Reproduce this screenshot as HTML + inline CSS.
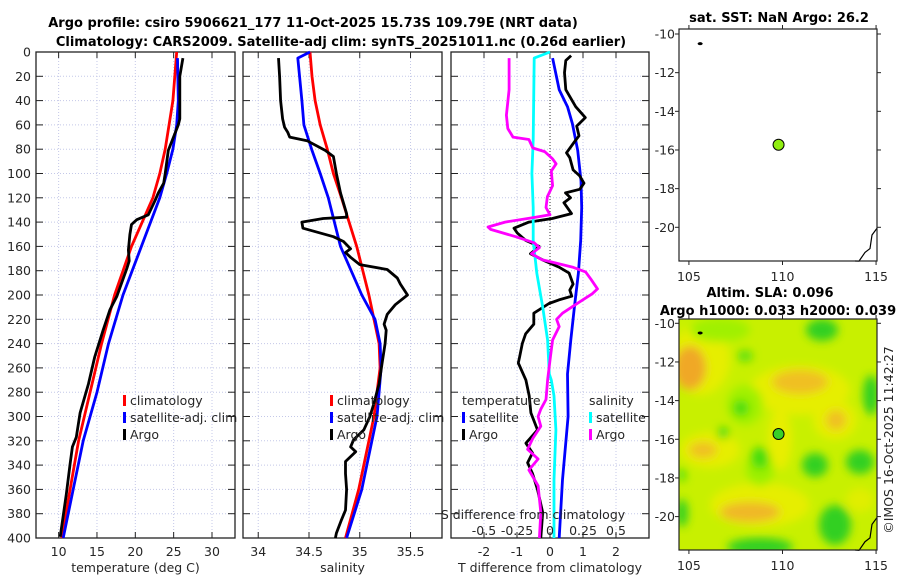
<!DOCTYPE html>
<html><head><meta charset="utf-8"><style>
body{margin:0;background:#fff;}
svg{display:block;font-family:"DejaVu Sans","Liberation Sans",sans-serif;}
.t{font-size:12.5px;fill:#262626;}
.b{font-weight:bold;font-size:13px;fill:#000;}
</style></head><body>
<svg id="fig" width="900" height="580" viewBox="0 0 900 580">
<g>
<text class="b" x="313" y="27" text-anchor="middle">Argo profile: csiro 5906621_177 11-Oct-2025 15.73S 109.79E (NRT data)</text>
<text class="b" x="341" y="46" text-anchor="middle">Climatology: CARS2009. Satellite-adj clim: synTS_20251011.nc (0.26d earlier)</text>
<text class="b" x="779" y="22" text-anchor="middle">sat. SST: NaN Argo: 26.2</text>
<text class="b" x="770" y="297" text-anchor="middle">Altim. SLA: 0.096</text>
<text class="b" x="778" y="315" text-anchor="middle">Argo h1000: 0.033 h2000: 0.039</text>
<text class="t" transform="translate(893,440) rotate(-90)" text-anchor="middle">©IMOS 16-Oct-2025 11:42:27</text>
</g>
<g id="plots"></g>
</svg>
<script>
// ---------- data ----------
const pTicks = [0,20,40,60,80,100,120,140,160,180,200,220,240,260,280,300,320,340,360,380,400];
const tempTicks = [10,15,20,25,30];
const salTicks = [34,34.5,35,35.5];
const salTickLabels = ['34','34.5','35','35.5'];
const tdTicks = [-2,-1,0,1,2];
const sdTicks = [-0.5,-0.25,0,0.25,0.5];
const sdTickLabels = ['-0.5','-0.25','0','0.25','0.5'];

const climTP = [0,40,80,100,120,160,200,240,280,320,360,400];
const climT  = [25.4,24.9,23.9,23.2,22.3,19.5,17.3,15.6,14.1,12.6,11.5,10.4];
const satTP  = [5,40,60,80,100,120,160,200,240,280,320,360,400];
const satT   = [25.5,25.6,25.4,24.9,24.1,23.2,20.8,18.4,16.5,15.0,13.2,11.9,10.6];
const argoTP = [5,20,55,60,81,100,108,116,122,134,138,142,150,163,172,178,201,212,229,251,273,297,317,325,339,364,399];
const argoT  = [26.2,25.8,25.8,25.6,24.3,23.9,23.7,23.0,22.6,21.7,20.2,19.5,19.3,19.1,19.2,18.9,17.6,16.7,15.8,14.7,13.9,12.8,12.3,11.8,11.5,11.0,10.2];

const climSP = [0,20,40,60,80,100,120,160,200,240,260,280,300,320,360,400];
const climS  = [34.51,34.53,34.56,34.61,34.68,34.74,34.82,34.97,35.09,35.19,35.20,35.17,35.14,35.09,34.99,34.86];
const satSP  = [0,5,40,60,81,100,120,160,200,220,240,260,280,300,320,360,400];
const satS   = [34.51,34.39,34.43,34.45,34.53,34.61,34.69,34.81,35.02,35.15,35.20,35.21,35.19,35.17,35.12,35.02,34.87];
const argoSP = [5,20,40,55,62,66,70,73,81,86,100,116,133,136,137,140,145,152,156,162,165,169,175,179,186,191,200,208,216,224,229,240,256,273,289,300,311,319,325,329,333,337,347,360,377,385,396,400];
const argoS  = [34.20,34.21,34.22,34.24,34.26,34.29,34.31,34.48,34.66,34.74,34.77,34.81,34.87,34.87,34.64,34.43,34.44,34.74,34.84,34.91,34.86,34.91,35.00,35.27,35.37,35.40,35.47,35.35,35.27,35.24,35.26,35.25,35.22,35.19,35.14,35.10,35.04,34.94,34.91,34.96,34.91,34.86,34.86,34.87,34.86,34.82,34.77,34.76];

const satTdP = [5,31,45,59,81,106,128,155,182,210,237,265,300,352,400];
const satTd  = [0.08,0.28,0.53,0.68,0.84,0.94,0.96,0.93,0.86,0.74,0.63,0.53,0.55,0.38,0.28];
const argoTdP = [3,7,17,31,45,54,61,69,74,83,87,97,102,108,113,116,120,124,133,137,140,145,149,155,160,166,171,177,182,191,196,201,204,207,215,224,232,240,251,256,270,283,297,311,322,330,338,347,360,379,400];
const argoTd  = [0.64,0.48,0.44,0.48,0.78,1.07,0.81,0.88,0.74,0.5,0.6,0.7,0.9,1.03,0.9,0.47,0.62,0.42,0.65,0.07,-0.64,-1.09,-0.99,-0.74,-0.33,-0.59,-0.23,0.27,0.58,0.7,0.6,0.66,0.27,-0.03,-0.49,-0.49,-0.74,-0.84,-0.92,-0.96,-0.73,-0.63,-0.58,-0.38,-0.73,-0.53,-0.68,-0.53,-0.38,-0.22,-0.28];
const satSdP = [0,5,72,100,128,155,182,210,237,265,270,283,311,352,400];
const satSd  = [0.0,-0.12,-0.127,-0.137,-0.127,-0.127,-0.10,-0.055,-0.018,-0.005,0.01,0.03,0.045,0.03,0.03];
const argoSdP = [5,31,52,63,70,72,79,82,88,92,98,110,119,128,134,136,140,144,146,152,157,161,166,171,173,177,181,187,195,199,206,215,220,226,237,251,270,286,294,300,308,318,327,335,344,357,379,400];
const argoSd  = [-0.31,-0.31,-0.33,-0.32,-0.28,-0.16,-0.13,-0.04,0.02,0.046,0.01,0.02,-0.02,-0.03,0.0,-0.11,-0.34,-0.47,-0.45,-0.26,-0.12,-0.08,-0.14,-0.06,0.02,0.17,0.27,0.31,0.36,0.32,0.22,0.095,0.05,0.07,0.02,0.003,-0.018,-0.03,-0.07,-0.09,-0.07,-0.13,-0.17,-0.09,-0.16,-0.09,-0.07,-0.08];

const latTicks = [-10,-12,-14,-16,-18,-20];
const lonTicks = [105,110,115];
const argoLon = [109.79];
const argoLat = [-15.73];

// ---------- helpers ----------
const NS='http://www.w3.org/2000/svg';
const root=document.getElementById('plots');
function mk(tag,attrs,parent){const e=document.createElementNS(NS,tag);for(const k in attrs)e.setAttribute(k,attrs[k]);(parent||root).appendChild(e);return e;}
const yTop=52, yBot=538;
function yP(p){return yTop+(p/400)*(yBot-yTop);}
const panels=[
 {x0:36,x1:235,min:7.05,max:33},
 {x0:243,x1:442,min:33.85,max:35.81},
 {x0:451,x1:649,min:-3,max:3}
];
function xf(pan,v){return pan.x0+(v-pan.min)/(pan.max-pan.min)*(pan.x1-pan.x0);}
function xS(v){return xf(panels[2],v*4);}

function drawPanel(i,ticks,labels,xlabel){
  const pan=panels[i];
  const g=mk('g',{});
  
  
  ticks.forEach((t,k)=>{
    const x=xf(pan,t);
    const gl=mk('line',{x1:x,x2:x,y1:yTop,y2:yBot,stroke:'#c4c8e8','stroke-width':1,'stroke-dasharray':'1,2'},g);
    
    
    mk('line',{x1:x,x2:x,y1:yBot,y2:yBot-6,stroke:'#222'},g);
    mk('line',{x1:x,x2:x,y1:yTop,y2:yTop+6,stroke:'#222'},g);
    const tx=mk('text',{x:x,y:556,'text-anchor':'middle',class:'t'},g);
    tx.textContent=labels[k];
    
    
  });
  pTicks.forEach(p=>{
    const y=yP(p);
    const gl=mk('line',{x1:pan.x0,x2:pan.x1,y1:y,y2:y,stroke:'#c4c8e8','stroke-width':1,'stroke-dasharray':'1,2'},g);
    
    
    mk('line',{x1:pan.x0,x2:pan.x0+7,y1:y,y2:y,stroke:'#222'},g);
    mk('line',{x1:pan.x1,x2:pan.x1-7,y1:y,y2:y,stroke:'#222'},g);
    if(i===0){
      const tx=mk('text',{x:31,y:y+4.5,'text-anchor':'end',class:'t'},g);
      tx.textContent=p;
      
      
    }
  });
  const fr=mk('rect',{x:pan.x0,y:yTop,width:pan.x1-pan.x0,height:yBot-yTop,fill:'none',stroke:'#222','stroke-width':1.3},g);
  
  
  const xl=mk('text',{x:(pan.x0+pan.x1)/2,y:572,'text-anchor':'middle',class:'t'},g);
  xl.textContent=xlabel;
  
  
  return g;
}
function line(g,P,V,fx,color,name){
  const d=P.map((p,k)=>(k?'L':'M')+fx(V[k]).toFixed(1)+','+yP(p).toFixed(1)).join('');
  const e=mk('path',{d:d,fill:'none',stroke:color,'stroke-width':2.8,'stroke-linejoin':'round'},g);
  
  
}
function legend(g,x,y,items){
  items.forEach((it,k)=>{
    if(it[0]){const m=mk('rect',{x:x,y:y+k*17-10,width:3,height:11,fill:it[0]},g);
    
    }
    const t=mk('text',{x:x+(it[0]?7:0),y:y+k*17,class:'t','font-size':'13'},g);
    t.textContent=it[1];
    
    
  });
}

// panel 1
const g1=drawPanel(0,tempTicks,tempTicks.map(String),'temperature (deg C)');
line(g1,climTP,climT,v=>xf(panels[0],v),'#ff0000','climatology-temp-line');
line(g1,satTP,satT,v=>xf(panels[0],v),'#0000ff','satellite-temp-line');
line(g1,argoTP,argoT,v=>xf(panels[0],v),'#000','argo-temp-line');
legend(g1,123,405,[['#ff0000','climatology'],['#0000ff','satellite-adj. clim'],['#000','Argo']]);

// panel 2
const g2=drawPanel(1,salTicks,salTickLabels,'salinity');
line(g2,climSP,climS,v=>xf(panels[1],v),'#ff0000','climatology-salinity-line');
line(g2,satSP,satS,v=>xf(panels[1],v),'#0000ff','satellite-salinity-line');
line(g2,argoSP,argoS,v=>xf(panels[1],v),'#000','argo-salinity-line');
legend(g2,330,405,[['#ff0000','climatology'],['#0000ff','satellite-adj. clim'],['#000','Argo']]);

// panel 3
const g3=drawPanel(2,tdTicks,tdTicks.map(String),'T difference from climatology');
const zl=mk('line',{x1:xf(panels[2],0),x2:xf(panels[2],0),y1:yTop,y2:yBot,stroke:'#333','stroke-dasharray':'1,2'},g3);


line(g3,satTdP,satTd,v=>xf(panels[2],v),'#0000ff','satellite-tdiff-line');
line(g3,argoTdP,argoTd,v=>xf(panels[2],v),'#000','argo-tdiff-line');
line(g3,satSdP,satSd,xS,'#00ffff','satellite-sdiff-line');
line(g3,argoSdP,argoSd,xS,'#ff00ff','argo-sdiff-line');
legend(g3,462,405,[[null,'temperature'],['#0000ff','satellite'],['#000','Argo']]);
legend(g3,589,405,[[null,'salinity'],['#00ffff','satellite'],['#ff00ff','Argo']]);
const st=mk('text',{x:533,y:519,'text-anchor':'middle',class:'t','font-size':'13'},g3);
st.textContent='S difference from climatology';


sdTicks.forEach((s,k)=>{
  const t=mk('text',{x:xS(s),y:535,'text-anchor':'middle',class:'t','font-size':'13'},g3);
  t.textContent=sdTickLabels[k];
  
  
});

// maps
const mapX0=679,mapX1=877,lonMin=104.47,lonMax=115.05;
function lonX(l){return mapX0+(l-lonMin)/(lonMax-lonMin)*(mapX1-mapX0);}
function drawMap(y0,y1,latTopPx,name,heat,dotFill){
  const g=mk('g',{});
  
  
  const latY=l=>latTopPx+(-10-l)*19.33;
  if(heat){
    mk('clipPath',{id:'clp'},g);
    const cp=g.lastChild;
    mk('rect',{x:mapX0,y:y0,width:mapX1-mapX0,height:y1-y0},cp);
    const defs=mk('defs',{},g);
    const f=mk('filter',{id:'bl',x:'-50%',y:'-50%',width:'200%',height:'200%'},defs);
    mk('feGaussianBlur',{stdDeviation:4.5},f);
    const hg=mk('g',{'clip-path':'url(#clp)'},g);
    
    
    mk('rect',{x:mapX0,y:y0,width:mapX1-mapX0,height:y1-y0,fill:'#c8f000'},hg);
    const bg=mk('g',{filter:'url(#bl)'},hg);
    const blobs=[
      ['#e6ee00',700,360,30,35],['#e6ee00',800,390,50,25],['#e6ee00',835,420,22,20],['#e6ee00',710,450,30,18],
      ['#e6ee00',760,505,50,22],['#e8ee00',780,440,12,30],['#e0ee00',860,500,14,12],
      ['#a0f000',720,330,30,12],['#a0f000',745,405,18,20],['#9cf000',760,470,14,16],
      ['#f0a828',690,368,16,22],['#f0c020',800,382,28,12],['#f0c020',836,420,10,10],
      ['#f0c020',703,450,14,8],['#f0b828',750,512,30,10],
      ['#30d020',822,330,16,11],['#30d020',871,395,8,20],['#30d020',815,465,13,12],['#30d020',860,462,14,12],
      ['#30d020',760,547,33,9],['#30d020',835,525,16,20],['#30d020',682,513,6,14],
      ['#44dd10',723,433,6,6],['#44dd10',741,408,8,8],['#44dd10',760,458,9,11],['#60e010',745,356,8,6],['#50e010',682,475,4,7]
    ];
    blobs.forEach(b=>mk('ellipse',{fill:b[0],cx:b[1],cy:b[2],rx:b[3],ry:b[4]},bg));
  }
  latTicks.forEach(l=>{
    const y=latY(l);
    mk('line',{x1:mapX0-4,x2:mapX0,y1:y,y2:y,stroke:'#222'},g);
    mk('line',{x1:mapX1,x2:mapX1+4,y1:y,y2:y,stroke:'#222'},g);
    const t=mk('text',{x:675,y:y+4.5,'text-anchor':'end',class:'t'},g);
    t.textContent=l;
    
    
  });
  lonTicks.forEach(l=>{
    const x=lonX(l);
    mk('line',{x1:x,x2:x,y1:y0-4,y2:y0,stroke:'#222'},g);
    mk('line',{x1:x,x2:x,y1:y1,y2:y1+4,stroke:'#222'},g);
    const t=mk('text',{x:x,y:y1+20,'text-anchor':'middle',class:'t'},g);
    t.textContent=l;
    
    
  });
  mk('ellipse',{cx:lonX(105.6),cy:latY(-10.5),rx:2.5,ry:1.5,fill:'#000'},g);
  const c=mk('path',{d:`M${mapX1},${latY(-20.05)} L${mapX1-5},${latY(-20.4)} L${mapX1-7},${latY(-21.1)} L${mapX1-12},${latY(-21.3)} L${mapX1-18},${latY(-21.75)} L${mapX1-22},${y1}`,fill:'none',stroke:'#000','stroke-width':1.2},g);
  
  
  mk('rect',{x:mapX0,y:y0,width:mapX1-mapX0,height:y1-y0,fill:'none',stroke:'#222','stroke-width':1.2},g);
  argoLon.forEach((lo,k)=>{
    const m=mk('circle',{cx:lonX(lo),cy:latY(argoLat[k]),r:5.5,fill:dotFill,stroke:'#000','stroke-width':1},g);
    
    
  });
}
drawMap(29,261,34,'sst-map',false,'#90ee10');
drawMap(319,550,323.3,'sla-map',true,'#38d028');
</script>
</body></html>
